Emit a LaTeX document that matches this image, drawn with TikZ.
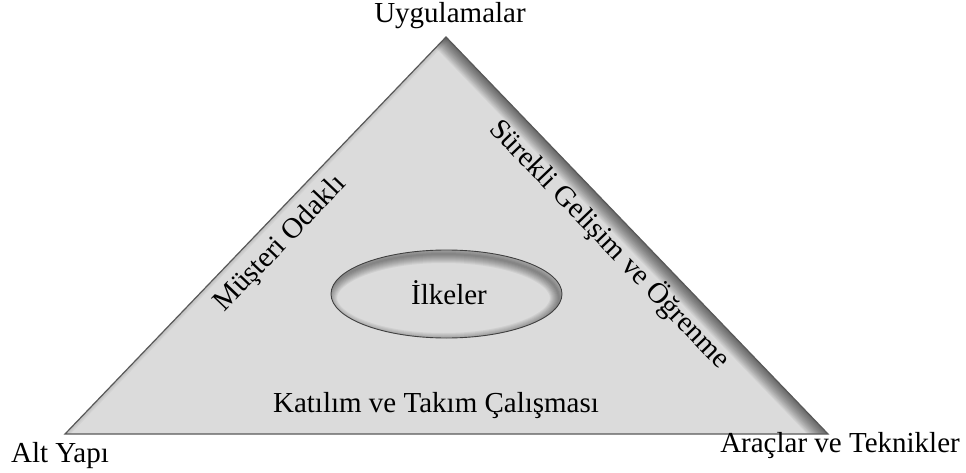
\documentclass[tikz,border=0pt]{standalone}
\usepackage{fontspec}
\setmainfont{Liberation Serif}
\begin{document}
\begin{tikzpicture}[x=1pt,y=-1pt,
  lbl/.style={font=\fontsize{29}{32}\selectfont, inner sep=0pt},
  edge/.style={draw=black!65, line width=1.2pt}]
\useasboundingbox (0,0) rectangle (966,473);
% corners of the triangle
\coordinate (A) at (446,37);
\coordinate (L) at (65,434);
\coordinate (R) at (828,434);
% body
\fill[black!14] (A) -- (R) -- (L) -- cycle;
% inner shadow along the right side
\begin{scope}
  \clip (A) -- (R) -- (L) -- cycle;
  \foreach \w in {2,4,...,30} {
    \draw[black, opacity=0.045, line width=\w pt] (A) -- (R);
  }
  \foreach \w in {2,4,...,8} {
    \draw[black, opacity=0.03, line width=\w pt] (L) -- (A);
  }
\end{scope}
\draw[edge] (A) -- (R) -- (L) -- cycle;
% inner ellipse with a soft inner shadow at its upper right
\coordinate (E) at (446.5,294);
\begin{scope}
  \clip (E) ellipse [x radius=115.5, y radius=44];
  \foreach \w in {2,4,...,18} {
    \draw[black, opacity=0.05, line width=\w pt]
      ([xshift=-3pt,yshift=-4pt]E) ellipse [x radius=115.5, y radius=44];
  }
\end{scope}
\draw[black!75, line width=0.9pt] (E) ellipse [x radius=115.5, y radius=44];
\node[lbl] (ilk) at (449,293) {İlkeler};
% labels
\node[lbl] (top) at (450,16) {Uygulamalar};
\node[lbl] (alt) at (60,456) {Alt Yapı};
\node[lbl] (arac) at (840,446) {Araçlar ve Teknikler};
\node[lbl] (kat) at (436,406) {Katılım ve Takım Çalışması};
\node[lbl, rotate=46.2] (mus) at (281,244) {Müşteri Odaklı};
\node[lbl, rotate=-46.1] (sur) at (610,244) {Sürekli Gelişim ve Öğrenme};
\end{tikzpicture}
\end{document}
